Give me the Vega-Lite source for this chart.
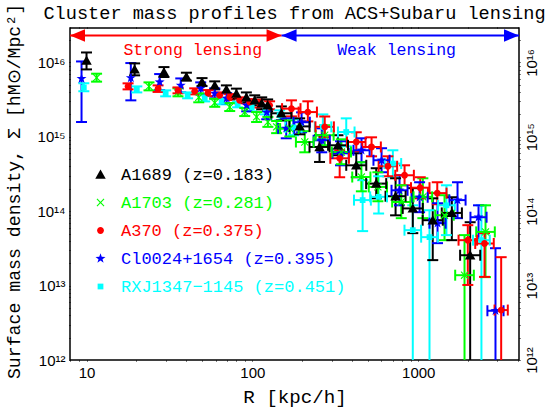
{
"$schema": "https://vega.github.io/schema/vega-lite/v6.json",
"width": 449, "height": 332,
"autosize": {"type": "none"},
"padding": {"left": 70, "top": 28, "right": 28, "bottom": 55},
"background": "white",
"title": {"text": "Cluster mass profiles from ACS+Subaru lensing", "font": "Liberation Mono", "fontSize": 18.6, "fontWeight": "normal", "color": "black", "offset": -19},
"config": {"view": {"stroke": "black", "strokeWidth": 1.5}},
"datasets": {
"pts": [
{"s":"RXJ1347−1145 (z=0.451)","x":9.63,"y":4.61e15,"ylo":4.08e15,"yhi":5.23e15},
{"s":"RXJ1347−1145 (z=0.451)","x":20.1,"y":4.34e15,"ylo":3.95e15,"yhi":4.76e15},
{"s":"RXJ1347−1145 (z=0.451)","x":30.0,"y":3.84e15,"ylo":3.50e15,"yhi":4.21e15},
{"s":"RXJ1347−1145 (z=0.451)","x":40.7,"y":3.61e15,"ylo":3.29e15,"yhi":3.95e15},
{"s":"RXJ1347−1145 (z=0.451)","x":51.6,"y":3.29e15,"ylo":2.99e15,"yhi":3.61e15},
{"s":"RXJ1347−1145 (z=0.451)","x":65.3,"y":2.99e15,"ylo":2.73e15,"yhi":3.29e15},
{"s":"RXJ1347−1145 (z=0.451)","x":81.5,"y":2.73e15,"ylo":2.49e15,"yhi":2.99e15},
{"s":"RXJ1347−1145 (z=0.451)","x":99.0,"y":2.49e15,"ylo":2.20e15,"yhi":2.82e15},
{"s":"RXJ1347−1145 (z=0.451)","x":120,"y":2.27e15,"ylo":2.0e15,"yhi":2.56e15},
{"s":"RXJ1347−1145 (z=0.451)","x":146,"y":1.95e15,"ylo":1.66e15,"yhi":2.27e15},
{"s":"RXJ1347−1145 (z=0.451)","x":177,"y":1.34e15,"ylo":1.05e15,"yhi":1.72e15,"xlo":158,"xhi":198},
{"s":"RXJ1347−1145 (z=0.451)","x":266,"y":1.36e15,"ylo":9.25e14,"yhi":2.0e15,"xlo":238,"xhi":299},
{"s":"RXJ1347−1145 (z=0.451)","x":368,"y":1.16e15,"ylo":7.45e14,"yhi":1.77e15,"xlo":328,"xhi":413},
{"s":"RXJ1347−1145 (z=0.451)","x":462,"y":1.41e14,"ylo":5.4e13,"yhi":2.61e14,"xlo":410,"xhi":518},
{"s":"RXJ1347−1145 (z=0.451)","x":577,"y":1.56e14,"ylo":9.31e13,"yhi":2.95e14,"xlo":513,"xhi":648},
{"s":"RXJ1347−1145 (z=0.451)","x":703,"y":4.37e14,"ylo":2.86e14,"yhi":6.59e14,"xlo":626,"xhi":789},
{"s":"RXJ1347−1145 (z=0.451)","x":927,"y":5.56e13,"ylo":1e11,"yhi":1.2e14,"xlo":826,"xhi":1040},
{"s":"RXJ1347−1145 (z=0.451)","x":1169,"y":4.48e13,"ylo":1e11,"yhi":1.03e14,"xlo":1041,"xhi":1313},
{"s":"RXJ1347−1145 (z=0.451)","x":1479,"y":1.2e14,"ylo":4.77e13,"yhi":2.23e14,"xlo":1317,"xhi":1660},
{"s":"RXJ1347−1145 (z=0.451)","x":2404,"y":4.08e13,"ylo":1e11,"yhi":1.2e14,"xlo":2140,"xhi":2700},
{"s":"Cl0024+1654 (z=0.395)","x":9.33,"y":6.04e15,"ylo":1.58e15,"yhi":1.03e16},
{"s":"Cl0024+1654 (z=0.395)","x":18.5,"y":6.19e15,"ylo":3.09e15,"yhi":9.8e15},
{"s":"Cl0024+1654 (z=0.395)","x":27.6,"y":5.44e15,"ylo":4.25e15,"yhi":6.97e15},
{"s":"Cl0024+1654 (z=0.395)","x":37.0,"y":4.91e15,"ylo":3.95e15,"yhi":6.09e15},
{"s":"Cl0024+1654 (z=0.395)","x":48.8,"y":4.48e15,"ylo":3.72e15,"yhi":5.39e15},
{"s":"Cl0024+1654 (z=0.395)","x":59.3,"y":3.84e15,"ylo":3.29e15,"yhi":4.48e15},
{"s":"Cl0024+1654 (z=0.395)","x":70.0,"y":3.29e15,"ylo":2.82e15,"yhi":3.84e15},
{"s":"Cl0024+1654 (z=0.395)","x":92.4,"y":2.65e15,"ylo":2.20e15,"yhi":3.18e15},
{"s":"Cl0024+1654 (z=0.395)","x":122,"y":2.13e15,"ylo":1.72e15,"yhi":2.65e15},
{"s":"Cl0024+1654 (z=0.395)","x":160,"y":1.30e15,"ylo":9.55e14,"yhi":1.77e15,"xlo":143,"xhi":179},
{"s":"Cl0024+1654 (z=0.395)","x":198,"y":1.57e15,"ylo":1.15e15,"yhi":2.13e15,"xlo":177,"xhi":222},
{"s":"Cl0024+1654 (z=0.395)","x":262,"y":8.98e14,"ylo":6.19e14,"yhi":1.30e15,"xlo":234,"xhi":293},
{"s":"Cl0024+1654 (z=0.395)","x":340,"y":6.0e14,"ylo":4.14e14,"yhi":8.71e14,"xlo":304,"xhi":381},
{"s":"Cl0024+1654 (z=0.395)","x":455,"y":6.59e14,"ylo":4.55e14,"yhi":9.55e14,"xlo":407,"xhi":509},
{"s":"Cl0024+1654 (z=0.395)","x":601,"y":4.84e14,"ylo":3.34e14,"yhi":7.02e14,"xlo":537,"xhi":672},
{"s":"Cl0024+1654 (z=0.395)","x":771,"y":1.91e14,"ylo":1.20e14,"yhi":3.04e14,"xlo":690,"xhi":862},
{"s":"Cl0024+1654 (z=0.395)","x":1019,"y":1.54e14,"ylo":9.7e13,"yhi":2.45e14,"xlo":911,"xhi":1140},
{"s":"Cl0024+1654 (z=0.395)","x":1307,"y":6.9e13,"ylo":3.72e13,"yhi":1.28e14,"xlo":1169,"xhi":1462},
{"s":"Cl0024+1654 (z=0.395)","x":1725,"y":1.41e14,"ylo":8.06e13,"yhi":2.45e14,"xlo":1542,"xhi":1929},
{"s":"Cl0024+1654 (z=0.395)","x":2309,"y":8.3e13,"ylo":4.08e13,"yhi":1.20e14,"xlo":2064,"xhi":2582},
{"s":"Cl0024+1654 (z=0.395)","x":2922,"y":4.59e12,"ylo":1e11,"yhi":3.18e13,"xlo":2612,"xhi":3268},
{"s":"A1703 (z=0.281)","x":11.5,"y":6.24e15,"ylo":5.51e15,"yhi":7.05e15},
{"s":"A1703 (z=0.281)","x":23.8,"y":4.76e15,"ylo":4.21e15,"yhi":5.39e15},
{"s":"A1703 (z=0.281)","x":35.6,"y":3.95e15,"ylo":3.50e15,"yhi":4.48e15},
{"s":"A1703 (z=0.281)","x":47.5,"y":3.39e15,"ylo":2.91e15,"yhi":3.84e15},
{"s":"A1703 (z=0.281)","x":59.3,"y":2.86e15,"ylo":2.53e15,"yhi":3.24e15},
{"s":"A1703 (z=0.281)","x":73.0,"y":2.51e15,"ylo":2.22e15,"yhi":2.84e15},
{"s":"A1703 (z=0.281)","x":89.9,"y":2.15e15,"ylo":1.90e15,"yhi":2.44e15},
{"s":"A1703 (z=0.281)","x":106,"y":1.85e15,"ylo":1.58e15,"yhi":2.15e15},
{"s":"A1703 (z=0.281)","x":124,"y":1.58e15,"ylo":1.36e15,"yhi":1.85e15},
{"s":"A1703 (z=0.281)","x":140,"y":1.36e15,"ylo":1.12e15,"yhi":1.63e15},
{"s":"A1703 (z=0.281)","x":168,"y":1.29e15,"ylo":1.01e15,"yhi":1.66e15,"xlo":147,"xhi":190},
{"s":"A1703 (z=0.281)","x":207,"y":8.51e14,"ylo":6.19e14,"yhi":1.19e15,"xlo":183,"xhi":234},
{"s":"A1703 (z=0.281)","x":273,"y":1.05e15,"ylo":7.69e14,"yhi":1.43e15,"xlo":241,"xhi":309},
{"s":"A1703 (z=0.281)","x":344,"y":6.25e14,"ylo":4.28e14,"yhi":9.25e14,"xlo":301,"xhi":393},
{"s":"A1703 (z=0.281)","x":454,"y":2.88e14,"ylo":1.85e14,"yhi":4.55e14,"xlo":400,"xhi":515},
{"s":"A1703 (z=0.281)","x":571,"y":2.12e14,"ylo":1.36e14,"yhi":3.34e14,"xlo":503,"xhi":648},
{"s":"A1703 (z=0.281)","x":790,"y":1.33e14,"ylo":8.06e13,"yhi":2.23e14,"xlo":696,"xhi":897},
{"s":"A1703 (z=0.281)","x":1066,"y":1.56e14,"ylo":8.06e13,"yhi":2.77e14,"xlo":937,"xhi":1213},
{"s":"A1703 (z=0.281)","x":1440,"y":8.83e13,"ylo":4.08e13,"yhi":1.64e14,"xlo":1266,"xhi":1637},
{"s":"A1703 (z=0.281)","x":1901,"y":1.38e13,"ylo":1e11,"yhi":4.77e13,"xlo":1670,"xhi":2164},
{"s":"A1703 (z=0.281)","x":2544,"y":5.27e13,"ylo":1.30e13,"yhi":1.20e14,"xlo":2236,"xhi":2895},
{"s":"A370 (z=0.375)","x":17.8,"y":4.76e15,"ylo":4.34e15,"yhi":5.23e15},
{"s":"A370 (z=0.375)","x":27.0,"y":4.44e15,"ylo":4.01e15,"yhi":4.91e15},
{"s":"A370 (z=0.375)","x":35.6,"y":4.21e15,"ylo":3.84e15,"yhi":4.61e15},
{"s":"A370 (z=0.375)","x":44.9,"y":4.08e15,"ylo":3.72e15,"yhi":4.48e15},
{"s":"A370 (z=0.375)","x":54.0,"y":3.87e15,"ylo":3.53e15,"yhi":4.25e15},
{"s":"A370 (z=0.375)","x":63.5,"y":3.61e15,"ylo":3.29e15,"yhi":3.95e15},
{"s":"A370 (z=0.375)","x":73.0,"y":3.42e15,"ylo":3.12e15,"yhi":3.75e15},
{"s":"A370 (z=0.375)","x":83.8,"y":3.09e15,"ylo":2.82e15,"yhi":3.39e15},
{"s":"A370 (z=0.375)","x":96.3,"y":2.93e15,"ylo":2.67e15,"yhi":3.21e15},
{"s":"A370 (z=0.375)","x":110.6,"y":2.79e15,"ylo":2.47e15,"yhi":3.16e15},
{"s":"A370 (z=0.375)","x":127,"y":2.65e15,"ylo":2.34e15,"yhi":3.0e15},
{"s":"A370 (z=0.375)","x":172,"y":2.39e15,"ylo":1.88e15,"yhi":3.09e15,"xlo":151,"xhi":195},
{"s":"A370 (z=0.375)","x":216,"y":2.15e15,"ylo":1.61e15,"yhi":3.0e15,"xlo":190,"xhi":245},
{"s":"A370 (z=0.375)","x":273,"y":1.36e15,"ylo":9.84e14,"yhi":1.88e15,"xlo":240,"xhi":310},
{"s":"A370 (z=0.375)","x":336,"y":5.14e14,"ylo":2.86e14,"yhi":6.59e14,"xlo":295,"xhi":382},
{"s":"A370 (z=0.375)","x":423,"y":8.51e14,"ylo":6.38e14,"yhi":1.15e15,"xlo":372,"xhi":481},
{"s":"A370 (z=0.375)","x":523,"y":7.30e14,"ylo":5.47e14,"yhi":9.84e14,"xlo":460,"xhi":595},
{"s":"A370 (z=0.375)","x":656,"y":4.02e14,"ylo":2.95e14,"yhi":5.47e14,"xlo":577,"xhi":746},
{"s":"A370 (z=0.375)","x":827,"y":3.04e14,"ylo":2.23e14,"yhi":4.14e14,"xlo":727,"xhi":941},
{"s":"A370 (z=0.375)","x":1028,"y":2.07e14,"ylo":1.49e14,"yhi":2.86e14,"xlo":904,"xhi":1169},
{"s":"A370 (z=0.375)","x":1302,"y":1.75e14,"ylo":1.24e14,"yhi":2.45e14,"xlo":1145,"xhi":1481},
{"s":"A370 (z=0.375)","x":1990,"y":4.08e13,"ylo":1.02e13,"yhi":6.49e13,"xlo":1750,"xhi":2263},
{"s":"A370 (z=0.375)","x":2509,"y":3.68e13,"ylo":1.31e13,"yhi":5.07e13,"xlo":2206,"xhi":2853},
{"s":"A370 (z=0.375)","x":3162,"y":4.69e12,"ylo":1e11,"yhi":2.41e13,"xlo":2884,"xhi":3467},
{"s":"A1689 (z=0.183)","x":10,"y":1.06e16,"ylo":8.05e15,"yhi":1.36e16},
{"s":"A1689 (z=0.183)","x":19.5,"y":8.05e15,"ylo":6.7e15,"yhi":9.7e15},
{"s":"A1689 (z=0.183)","x":29.3,"y":7.41e15,"ylo":6.36e15,"yhi":8.65e15},
{"s":"A1689 (z=0.183)","x":40.0,"y":6.43e15,"ylo":5.68e15,"yhi":7.27e15},
{"s":"A1689 (z=0.183)","x":49.7,"y":5.44e15,"ylo":4.81e15,"yhi":6.15e15},
{"s":"A1689 (z=0.183)","x":59.3,"y":4.91e15,"ylo":4.34e15,"yhi":5.56e15},
{"s":"A1689 (z=0.183)","x":69.7,"y":4.34e15,"ylo":3.84e15,"yhi":4.91e15},
{"s":"A1689 (z=0.183)","x":80.1,"y":3.80e15,"ylo":3.26e15,"yhi":4.44e15},
{"s":"A1689 (z=0.183)","x":92.0,"y":3.39e15,"ylo":2.91e15,"yhi":3.95e15},
{"s":"A1689 (z=0.183)","x":103.3,"y":3.09e15,"ylo":2.65e15,"yhi":3.61e15},
{"s":"A1689 (z=0.183)","x":113.8,"y":2.82e15,"ylo":2.34e15,"yhi":3.39e15},
{"s":"A1689 (z=0.183)","x":123.6,"y":2.65e15,"ylo":2.20e15,"yhi":3.18e15},
{"s":"A1689 (z=0.183)","x":149.5,"y":2.07e15,"ylo":1.66e15,"yhi":2.56e15,"xlo":130,"xhi":172},
{"s":"A1689 (z=0.183)","x":192.8,"y":1.38e15,"ylo":1.08e15,"yhi":1.77e15,"xlo":167,"xhi":221},
{"s":"A1689 (z=0.183)","x":254,"y":7.30e14,"ylo":4.59e14,"yhi":1.05e15,"xlo":221,"xhi":292},
{"s":"A1689 (z=0.183)","x":328,"y":7.69e14,"ylo":5.65e14,"yhi":1.05e15,"xlo":286,"xhi":377},
{"s":"A1689 (z=0.183)","x":423,"y":4.14e14,"ylo":2.86e14,"yhi":6.01e14,"xlo":368,"xhi":486},
{"s":"A1689 (z=0.183)","x":558,"y":2.35e14,"ylo":1.49e14,"yhi":3.78e14,"xlo":485,"xhi":641},
{"s":"A1689 (z=0.183)","x":730,"y":1.59e14,"ylo":8.8e13,"yhi":2.77e14,"xlo":635,"xhi":839},
{"s":"A1689 (z=0.183)","x":927,"y":1.09e14,"ylo":5.07e13,"yhi":2.04e14,"xlo":806,"xhi":1065},
{"s":"A1689 (z=0.183)","x":1223,"y":7.57e13,"ylo":2.20e13,"yhi":1.49e14,"xlo":1063,"xhi":1406},
{"s":"A1689 (z=0.183)","x":1594,"y":9.48e13,"ylo":4.08e13,"yhi":1.54e14,"xlo":1386,"xhi":1833},
{"s":"A1689 (z=0.183)","x":2056,"y":2.56e13,"ylo":1e11,"yhi":7.11e13,"xlo":1788,"xhi":2364}
]
},
"layer": [
{"data": {"name": "pts"},
 "mark": {"type": "rule", "strokeWidth": 2, "clip": true},
 "encoding": {
  "x": {"field": "x", "type": "quantitative", "scale": {"type": "log", "domain": [7.95, 4050], "nice": false},
   "axis": {"orient": "bottom", "values": [8,9,10,20,30,40,50,60,70,80,90,100,200,300,400,500,600,700,800,900,1000,2000,3000,4000],
    "labelExpr": "datum.value==10?'10':datum.value==100?'100':datum.value==1000?'1000':''",
    "labelOverlap": false, "labelFlush": false, "tickSize": 1, "tickColor": "black", "tickWidth": 1,
    "labelFont": "Liberation Sans", "labelFontSize": 15, "labelColor": "black", "labelPadding": 4,
    "domain": false, "grid": false,
    "title": "R [kpc/h]", "titleFont": "Liberation Mono", "titleFontSize": 19.2, "titleFontWeight": "normal", "titleColor": "black", "titlePadding": 7,
    "encode": {"ticks": {"update": {"y2": {"signal": "indexof([10,100,1000],datum.value)>=0?-8:-4"}}}}}},
  "y": {"field": "ylo", "type": "quantitative", "scale": {"type": "log", "domain": [1e12, 2.9e16], "nice": false},
   "axis": {"orient": "left", "values": [1e12,2e12,3e12,4e12,5e12,6e12,7e12,8e12,9e12,1e13,2e13,3e13,4e13,5e13,6e13,7e13,8e13,9e13,1e14,2e14,3e14,4e14,5e14,6e14,7e14,8e14,9e14,1e15,2e15,3e15,4e15,5e15,6e15,7e15,8e15,9e15,1e16,2e16],
    "labelExpr": "datum.value==1e12?'10¹²':datum.value==1e13?'10¹³':datum.value==1e14?'10¹⁴':datum.value==1e15?'10¹⁵':datum.value==1e16?'10¹⁶':''",
    "labelOverlap": false, "labelFlush": false, "tickSize": 1, "tickColor": "black", "tickWidth": 1,
    "labelFont": "Liberation Sans", "labelFontSize": 15, "labelColor": "black", "labelPadding": 4,
    "domain": false, "grid": false,
    "title": "Surface mass density, Σ [hM⊙/Mpc²]", "titleFont": "Liberation Mono", "titleFontSize": 18.2, "titleFontWeight": "normal", "titleColor": "black", "titlePadding": 13, "titleY": 163,
    "encode": {"ticks": {"update": {"x2": {"signal": "indexof([1e12,1e13,1e14,1e15,1e16],datum.value)>=0?8:4"}}}}}},
  "y2": {"field": "yhi"},
  "color": {"field": "s", "type": "nominal", "scale": {"domain": ["A1689 (z=0.183)","A1703 (z=0.281)","A370 (z=0.375)","Cl0024+1654 (z=0.395)","RXJ1347−1145 (z=0.451)"], "range": ["#000000","#00ff00","#ff0000","#0000ff","#00ffff"]}}
 }},
{"data": {"name": "pts"},
 "mark": {"type": "tick", "orient": "horizontal", "size": 11, "thickness": 2, "opacity": 1, "clip": true},
 "encoding": {
  "x": {"field": "x", "type": "quantitative", "scale": {"type": "log", "domain": [7.95, 4050], "nice": false}, "axis": null},
  "y": {"field": "ylo", "type": "quantitative", "scale": {"type": "log", "domain": [1e12, 2.9e16], "nice": false}, "axis": null},
  "color": {"field": "s", "type": "nominal"}
 }},
{"data": {"name": "pts"},
 "mark": {"type": "tick", "orient": "horizontal", "size": 11, "thickness": 2, "opacity": 1, "clip": true},
 "encoding": {
  "x": {"field": "x", "type": "quantitative", "scale": {"type": "log", "domain": [7.95, 4050], "nice": false}, "axis": null},
  "y": {"field": "yhi", "type": "quantitative", "scale": {"type": "log", "domain": [1e12, 2.9e16], "nice": false}, "axis": null},
  "color": {"field": "s", "type": "nominal"}
 }},
{"data": {"name": "pts"},
 "transform": [{"filter": {"field": "xlo", "valid": true}}],
 "mark": {"type": "rule", "strokeWidth": 2, "clip": true},
 "encoding": {
  "x": {"field": "xlo", "type": "quantitative", "scale": {"type": "log", "domain": [7.95, 4050], "nice": false},
   "axis": {"orient": "top", "values": [8,9,10,20,30,40,50,60,70,80,90,100,200,300,400,500,600,700,800,900,1000,2000,3000,4000],
    "labels": false, "tickSize": 1, "tickColor": "black", "tickWidth": 1, "domain": false, "grid": false, "title": null,
    "encode": {"ticks": {"update": {"y2": {"signal": "indexof([10,100,1000],datum.value)>=0?8:4"}}}}}},
  "x2": {"field": "xhi"},
  "y": {"field": "y", "type": "quantitative", "scale": {"type": "log", "domain": [1e12, 2.9e16], "nice": false},
   "axis": {"orient": "right", "values": [1e12,2e12,3e12,4e12,5e12,6e12,7e12,8e12,9e12,1e13,2e13,3e13,4e13,5e13,6e13,7e13,8e13,9e13,1e14,2e14,3e14,4e14,5e14,6e14,7e14,8e14,9e14,1e15,2e15,3e15,4e15,5e15,6e15,7e15,8e15,9e15,1e16,2e16],
    "labelExpr": "datum.value==1e12?'10¹²':datum.value==1e13?'10¹³':datum.value==1e14?'10¹⁴':datum.value==1e15?'10¹⁵':datum.value==1e16?'10¹⁶':''",
    "labelOverlap": false, "labelFlush": false, "labelAngle": -90, "labelAlign": "center", "labelBaseline": "top",
    "tickSize": 1, "tickColor": "black", "tickWidth": 1,
    "labelFont": "Liberation Sans", "labelFontSize": 15, "labelColor": "black", "labelPadding": 4,
    "domain": false, "grid": false, "title": null,
    "encode": {"ticks": {"update": {"x2": {"signal": "indexof([1e12,1e13,1e14,1e15,1e16],datum.value)>=0?-8:-4"}}}}}},
  "color": {"field": "s", "type": "nominal"}
 }},
{"data": {"name": "pts"},
 "transform": [{"filter": {"field": "xlo", "valid": true}}],
 "mark": {"type": "tick", "orient": "vertical", "size": 11, "thickness": 2, "opacity": 1, "clip": true},
 "encoding": {
  "x": {"field": "xlo", "type": "quantitative", "scale": {"type": "log", "domain": [7.95, 4050], "nice": false}, "axis": null},
  "y": {"field": "y", "type": "quantitative", "scale": {"type": "log", "domain": [1e12, 2.9e16], "nice": false}, "axis": null},
  "color": {"field": "s", "type": "nominal"}
 }},
{"data": {"name": "pts"},
 "transform": [{"filter": {"field": "xlo", "valid": true}}],
 "mark": {"type": "tick", "orient": "vertical", "size": 11, "thickness": 2, "opacity": 1, "clip": true},
 "encoding": {
  "x": {"field": "xhi", "type": "quantitative", "scale": {"type": "log", "domain": [7.95, 4050], "nice": false}, "axis": null},
  "y": {"field": "y", "type": "quantitative", "scale": {"type": "log", "domain": [1e12, 2.9e16], "nice": false}, "axis": null},
  "color": {"field": "s", "type": "nominal"}
 }},
{"data": {"name": "pts"},
 "mark": {"type": "point", "filled": true, "size": 110, "opacity": 1, "strokeWidth": 0, "clip": true},
 "encoding": {
  "x": {"field": "x", "type": "quantitative", "scale": {"type": "log", "domain": [7.95, 4050], "nice": false}, "axis": null},
  "y": {"field": "y", "type": "quantitative", "scale": {"type": "log", "domain": [1e12, 2.9e16], "nice": false}, "axis": null},
  "color": {"field": "s", "type": "nominal",
   "legend": {"orient": "none", "legendX": 22, "legendY": 138, "title": null, "padding": 0, "labelFont": "Liberation Mono", "labelFontSize": 17, "labelLimit": 0, "symbolSize": 110, "rowPadding": 10, "labelOffset": 12, "symbolStrokeWidth": 0, "symbolOpacity": 1,
    "encode": {"labels": {"update": {"fill": {"signal": "scale('color', datum.value)"}}}}}},
  "shape": {"field": "s", "type": "nominal",
   "scale": {"domain": ["A1689 (z=0.183)","A1703 (z=0.281)","A370 (z=0.375)","Cl0024+1654 (z=0.395)","RXJ1347−1145 (z=0.451)"],
    "range": ["M0,-0.95L1,0.8L-1,0.8Z",
     "M-0.75,-0.6L-0.6,-0.75L0,-0.15L0.6,-0.75L0.75,-0.6L0.15,0L0.75,0.6L0.6,0.75L0,0.15L-0.6,0.75L-0.75,0.6L-0.15,0Z",
     "M0.65,0A0.65,0.65,0,1,1,-0.65,0A0.65,0.65,0,1,1,0.65,0Z",
     "M0,-1L0.235,-0.324L0.951,-0.309L0.38,0.124L0.588,0.809L0,0.4L-0.588,0.809L-0.38,0.124L-0.951,-0.309L-0.235,-0.324Z",
     "M-0.55,-0.55H0.55V0.55H-0.55Z"]},
   "legend": {"orient": "none", "legendX": 22, "legendY": 138, "title": null, "padding": 0, "labelFont": "Liberation Mono", "labelFontSize": 17, "labelLimit": 0, "symbolSize": 110, "rowPadding": 10, "labelOffset": 12, "symbolStrokeWidth": 0, "symbolOpacity": 1,
    "encode": {"labels": {"update": {"fill": {"signal": "scale('color', datum.value)"}}}}}}
 }},
{"data": {"values": [{"xa": 7.95, "xb": 150, "y": 2.3e16, "xt": 43.7, "yt": 1.45e16, "label": "Strong lensing"}]},
 "layer": [
  {"mark": {"type": "rule", "color": "#ff0000", "strokeWidth": 2},
   "encoding": {"x": {"field": "xa", "type": "quantitative", "scale": {"type": "log", "domain": [7.95, 4050], "nice": false}, "axis": null}, "x2": {"field": "xb"},
    "y": {"field": "y", "type": "quantitative", "scale": {"type": "log", "domain": [1e12, 2.9e16], "nice": false}, "axis": null}}},
  {"mark": {"type": "point", "shape": "M0,0L1.2,-0.5L1.2,0.5Z", "filled": true, "size": 625, "color": "#ff0000", "opacity": 1, "strokeWidth": 0},
   "encoding": {"x": {"field": "xa", "type": "quantitative", "scale": {"type": "log", "domain": [7.95, 4050], "nice": false}, "axis": null},
    "y": {"field": "y", "type": "quantitative", "scale": {"type": "log", "domain": [1e12, 2.9e16], "nice": false}, "axis": null}}},
  {"mark": {"type": "point", "shape": "M0,0L-1.2,-0.5L-1.2,0.5Z", "filled": true, "size": 625, "color": "#ff0000", "opacity": 1, "strokeWidth": 0},
   "encoding": {"x": {"field": "xb", "type": "quantitative", "scale": {"type": "log", "domain": [7.95, 4050], "nice": false}, "axis": null},
    "y": {"field": "y", "type": "quantitative", "scale": {"type": "log", "domain": [1e12, 2.9e16], "nice": false}, "axis": null}}},
  {"mark": {"type": "text", "color": "#ff0000", "font": "Liberation Mono", "fontSize": 16.5, "baseline": "middle", "align": "center"},
   "encoding": {"x": {"field": "xt", "type": "quantitative", "scale": {"type": "log", "domain": [7.95, 4050], "nice": false}, "axis": null},
    "y": {"field": "yt", "type": "quantitative", "scale": {"type": "log", "domain": [1e12, 2.9e16], "nice": false}, "axis": null},
    "text": {"field": "label"}}}
 ]},
{"data": {"values": [{"xa": 150, "xb": 4050, "y": 2.3e16, "xt": 740, "yt": 1.45e16, "label": "Weak lensing"}]},
 "layer": [
  {"mark": {"type": "rule", "color": "#0000ff", "strokeWidth": 2},
   "encoding": {"x": {"field": "xa", "type": "quantitative", "scale": {"type": "log", "domain": [7.95, 4050], "nice": false}, "axis": null}, "x2": {"field": "xb"},
    "y": {"field": "y", "type": "quantitative", "scale": {"type": "log", "domain": [1e12, 2.9e16], "nice": false}, "axis": null}}},
  {"mark": {"type": "point", "shape": "M0,0L1.2,-0.5L1.2,0.5Z", "filled": true, "size": 625, "color": "#0000ff", "opacity": 1, "strokeWidth": 0},
   "encoding": {"x": {"field": "xa", "type": "quantitative", "scale": {"type": "log", "domain": [7.95, 4050], "nice": false}, "axis": null},
    "y": {"field": "y", "type": "quantitative", "scale": {"type": "log", "domain": [1e12, 2.9e16], "nice": false}, "axis": null}}},
  {"mark": {"type": "point", "shape": "M0,0L-1.2,-0.5L-1.2,0.5Z", "filled": true, "size": 625, "color": "#0000ff", "opacity": 1, "strokeWidth": 0},
   "encoding": {"x": {"field": "xb", "type": "quantitative", "scale": {"type": "log", "domain": [7.95, 4050], "nice": false}, "axis": null},
    "y": {"field": "y", "type": "quantitative", "scale": {"type": "log", "domain": [1e12, 2.9e16], "nice": false}, "axis": null}}},
  {"mark": {"type": "text", "color": "#0000ff", "font": "Liberation Mono", "fontSize": 16.5, "baseline": "middle", "align": "center"},
   "encoding": {"x": {"field": "xt", "type": "quantitative", "scale": {"type": "log", "domain": [7.95, 4050], "nice": false}, "axis": null},
    "y": {"field": "yt", "type": "quantitative", "scale": {"type": "log", "domain": [1e12, 2.9e16], "nice": false}, "axis": null},
    "text": {"field": "label"}}}
 ]}
],
"resolve": {"axis": {"x": "independent", "y": "independent"}}
}
